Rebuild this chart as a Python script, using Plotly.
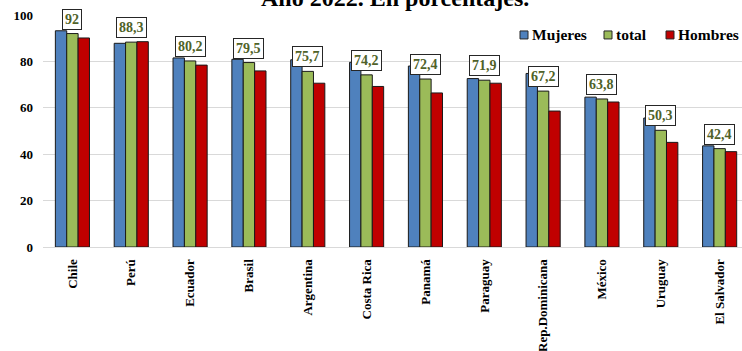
import plotly.graph_objects as go

paises = ["Chile", "Perú", "Ecuador", "Brasil", "Argentina", "Costa Rica", "Panamá",
          "Paraguay", "Rep.Dominicana", "México", "Uruguay", "El Salvador"]
mujeres = [93.2, 87.8, 81.5, 80.9, 80.7, 79.6, 78.0, 72.6, 74.8, 64.6, 55.6, 43.6]
total = [92, 88.3, 80.2, 79.5, 75.7, 74.2, 72.4, 71.9, 67.2, 63.8, 50.3, 42.4]
hombres = [90.1, 88.5, 78.4, 75.9, 70.6, 69.2, 66.4, 70.6, 58.6, 62.5, 45.1, 41.1]
series_names = ["Mujeres", "total", "Hombres"]
series_colors = ["#4F81BD", "#9BBB59", "#C00000"]
yticks = [0, 20, 40, 60, 80, 100]

W, H = 742, 351
L, R, T, B = 43, 0, 15, 103.5
pw, ph = W - L - R, H - T - B

def px_x(x):
    return (x - L) / pw

def px_y(y):
    return (H - B - y) / ph

FONT = "Liberation Serif, Times New Roman, serif"

fig = go.Figure()
for name, vals, col in zip(series_names, [mujeres, total, hombres], series_colors):
    fig.add_trace(go.Bar(
        x=paises, y=vals, name=name,
        marker=dict(color=col, line=dict(color="#1a1a1a", width=1)),
        showlegend=False,
    ))

annotations = []
for p, v in zip(paises, total):
    txt = (f"{v:g}").replace(".", ",")
    annotations.append(dict(
        x=p, y=v, xref="x", yref="y", text=f"<b>{txt}</b>", showarrow=False,
        yanchor="bottom", yshift=4,
        font=dict(family=FONT, size=14, color="#4F6228"),
        bgcolor="white", bordercolor="#262626", borderwidth=1, borderpad=2,
    ))

# title (partially above the visible area, as in the reference)
annotations.append(dict(
    x=px_x(395), y=1, xref="paper", yref="paper", yshift=17,
    text="<b>Año 2022. En porcentajes.</b>", showarrow=False,
    xanchor="center", yanchor="middle",
    font=dict(family=FONT, size=24, color="black"),
))

# manual legend
shapes = []
leg_sq_x = [520, 604, 666]
leg_y = 35
for name, col, sx in zip(series_names, series_colors, leg_sq_x):
    shapes.append(dict(
        type="rect", xref="paper", yref="paper",
        x0=px_x(sx), x1=px_x(sx + 8), y0=px_y(leg_y + 4), y1=px_y(leg_y - 4),
        fillcolor=col, line=dict(color="#262626", width=1),
    ))
    annotations.append(dict(
        x=px_x(sx + 10), y=px_y(leg_y), xref="paper", yref="paper",
        text=f"<b>{name}</b>", showarrow=False, xanchor="left", yanchor="middle",
        font=dict(family=FONT, size=15.5, color="black"),
    ))

fig.update_layout(
    width=W, height=H,
    margin=dict(l=L, r=R, t=T, b=B, pad=0),
    plot_bgcolor="white", paper_bgcolor="white",
    barmode="group", bargap=0.42, bargroupgap=0,
    annotations=annotations, shapes=shapes,
    font=dict(family=FONT, color="black"),
)
fig.update_xaxes(
    range=[-0.5, 11.38], tickangle=-90, showgrid=False,
    showline=True, linecolor="#d9d9d9", linewidth=1,
    tickfont=dict(family=FONT, size=13, color="black", weight="bold"),
    ticks="", ticklabelstandoff=6,
)
fig.update_yaxes(
    range=[0, 100], tickvals=yticks, showgrid=True, gridcolor="#d9d9d9", gridwidth=1,
    zeroline=False, showline=False,
    tickfont=dict(family=FONT, size=13, color="black", weight="bold"),
    ticks="", ticklabelstandoff=9,
)

fig.write_html("out.html")
